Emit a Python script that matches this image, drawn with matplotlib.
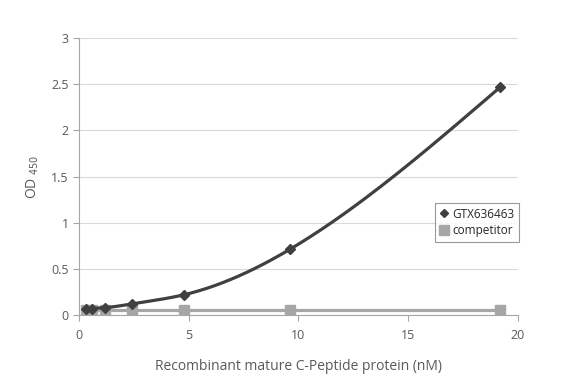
import numpy as np
import matplotlib
matplotlib.use('Agg')
import matplotlib.pyplot as plt

conc = [0.3, 0.6, 1.2, 2.4, 4.8, 9.6, 19.2]
gtx = [0.06, 0.07, 0.08, 0.12, 0.22, 0.71, 2.47]
competitor = [0.05, 0.05, 0.05, 0.05, 0.05, 0.05, 0.05]


def smooth(x, y, n=40):
    # natural cubic spline through the points, just for drawing a smoothed line
    x = np.asarray(x, float)
    y = np.asarray(y, float)
    k = len(x)
    h = np.diff(x)
    A = np.zeros((k, k))
    b = np.zeros(k)
    A[0, 0] = A[-1, -1] = 1
    for i in range(1, k - 1):
        A[i, i - 1] = h[i - 1]
        A[i, i] = 2 * (h[i - 1] + h[i])
        A[i, i + 1] = h[i]
        b[i] = 6 * ((y[i + 1] - y[i]) / h[i] - (y[i] - y[i - 1]) / h[i - 1])
    M = np.linalg.solve(A, b)
    xs, ys = [], []
    for i in range(k - 1):
        t = np.linspace(x[i], x[i + 1], n)
        a = (x[i + 1] - t) / h[i]
        c = (t - x[i]) / h[i]
        s = a * y[i] + c * y[i + 1] + ((a ** 3 - a) * M[i] + (c ** 3 - c) * M[i + 1]) * h[i] ** 2 / 6
        xs.extend(t)
        ys.extend(s)
    return xs, ys


plt.rcParams['font.family'] = ['Open Sans', 'DejaVu Sans']
txt = '#595959'

fig = plt.figure(figsize=(5.82, 3.82), dpi=100)
ax = fig.add_axes([0.1357, 0.1754, 0.7543, 0.7251])

sx, sy = smooth(conc, gtx)
ax.plot(sx, sy, color='#404040', linewidth=2.3, zorder=3)
ax.plot(conc, gtx, linestyle='none', marker='D', markersize=5, color='#404040', zorder=4,
        label='GTX636463')
ax.plot(conc, competitor, color='#a6a6a6', linewidth=2.3, marker='s', markersize=7.5, zorder=2,
        label='competitor')

ax.set_xlim(0, 20)
ax.set_ylim(0, 3)
ax.set_xticks([0, 5, 10, 15, 20])
ax.set_yticks([0, 0.5, 1, 1.5, 2, 2.5, 3])
ax.set_yticklabels(['0', '0.5', '1', '1.5', '2', '2.5', '3'])
ax.grid(axis='y', color='#d9d9d9', linewidth=0.8)
ax.set_axisbelow(True)
for s in ['top', 'right']:
    ax.spines[s].set_visible(False)
for s in ['left', 'bottom']:
    ax.spines[s].set_color('#a6a6a6')
ax.tick_params(axis='both', colors='#a6a6a6', labelcolor=txt, labelsize=9, length=4)
ax.tick_params(axis='x', pad=6)

ax.set_xlabel('Recombinant mature C-Peptide protein (nM)', fontsize=10, color=txt, labelpad=12)
ax.set_ylabel('OD $_{450}$', fontsize=10, color=txt, labelpad=7)

leg = ax.legend(loc='upper left', bbox_to_anchor=(0.81, 0.405), fontsize=8.5, frameon=True,
                fancybox=False, edgecolor='#808080', handlelength=0.8, handletextpad=0.3,
                borderpad=0.4, labelspacing=0.3, markerscale=0.9, borderaxespad=0)
leg.get_frame().set_linewidth(0.8)
for t in leg.get_texts():
    t.set_color('#262626')
for h in leg.legend_handles:
    h.set_linestyle('none')

fig.savefig('out.png', dpi=100)
